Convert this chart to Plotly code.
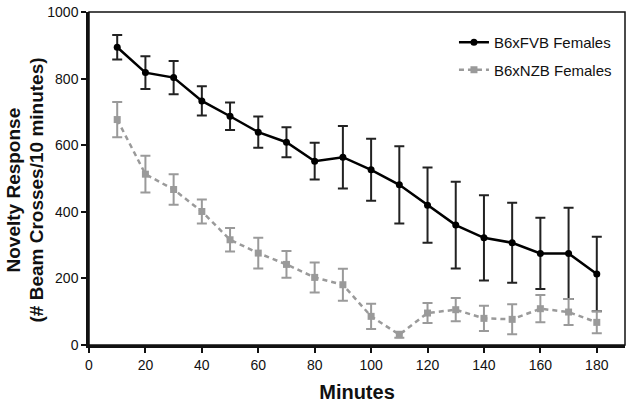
import plotly.graph_objects as go

minutes = [10, 20, 30, 40, 50, 60, 70, 80, 90, 100, 110, 120, 130, 140, 150, 160, 170, 180]

fvb_mean = [894, 818, 803, 733, 687, 639, 609, 552, 564, 526, 481, 420, 360, 322, 307, 275, 275, 213]
fvb_err = [37, 49, 50, 44, 41, 47, 45, 55, 94, 93, 116, 113, 130, 128, 120, 107, 137, 112]

nzb_mean = [677, 513, 467, 401, 316, 276, 242, 203, 181, 86, 31, 96, 106, 80, 77, 109, 99, 68]
nzb_err = [53, 55, 46, 36, 35, 46, 40, 45, 48, 38, 9, 30, 35, 38, 45, 41, 39, 33]

series_names = ["B6xFVB Females", "B6xNZB Females"]
x_ticks = [0, 20, 40, 60, 80, 100, 120, 140, 160, 180]
y_ticks = [0, 200, 400, 600, 800, 1000]
y_title_lines = ["Novelty Response", "(# Beam Crosses/10 minutes)"]
x_title = "Minutes"

BLACK = "#000000"
GRAY = "#9a9a9a"
FAMILY = "Liberation Sans, Arial, sans-serif"
TICKFONT = dict(family=FAMILY, size=14, color="#111")

fig = go.Figure()
fig.add_trace(go.Scatter(
    x=minutes, y=fvb_mean, name=series_names[0], legendgroup="a",
    mode="lines+markers",
    line=dict(color=BLACK, width=2.5),
    marker=dict(symbol="circle", size=7, color=BLACK),
    error_y=dict(type="data", array=fvb_err, color="#222", thickness=2, width=5),
))
fig.add_trace(go.Scatter(
    x=minutes, y=nzb_mean, name=series_names[1], legendgroup="b",
    mode="lines+markers",
    line=dict(color=GRAY, width=2.5, dash="5px,4px"),
    marker=dict(symbol="square", size=7, color=GRAY),
    error_y=dict(type="data", array=nzb_err, color=GRAY, thickness=2, width=5),
))

fig.update_layout(
    width=629, height=405,
    margin=dict(l=89, r=4, t=10, b=60),
    plot_bgcolor="white", paper_bgcolor="white",
    showlegend=True,
    legend=dict(
        x=0.985, y=0.958, xanchor="right", yanchor="top",
        bgcolor="rgba(0,0,0,0)",
        font=dict(family=FAMILY, size=15, color="#111"),
        tracegroupgap=5,
        itemwidth=30,
    ),
    xaxis=dict(
        range=[0, 190], tickvals=x_ticks, ticks="outside", ticklen=5, tickwidth=2,
        tickcolor="#111", showline=True, linecolor="#111", linewidth=2.5,
        showgrid=False, zeroline=False, tickfont=TICKFONT,
        title=dict(text="<b>" + x_title + "</b>", font=dict(family=FAMILY, size=20, color="#111"), standoff=14),
    ),
    yaxis=dict(
        range=[0, 1000], tickvals=y_ticks, ticks="outside", ticklen=5, tickwidth=2,
        tickcolor="#111", showline=True, linecolor="#111", linewidth=2.5,
        showgrid=False, zeroline=False, tickfont=TICKFONT,
    ),
    shapes=[dict(type="rect", xref="paper", yref="paper", x0=0, y0=0, x1=1, y1=1,
                 line=dict(color="#111", width=1.5), layer="above")],
)

for i, (txt, px) in enumerate(zip(y_title_lines, [13, 36])):
    fig.add_annotation(
        text="<b>" + txt + "</b>", xref="paper", yref="paper", x=0, y=0.5,
        xanchor="center", yanchor="middle", xshift=px - 89, yshift=-12,
        textangle=-90, showarrow=False,
        font=dict(family=FAMILY, size=19, color="#111"),
    )

fig.write_html("out.html", config={"displayModeBar": False},
               post_script="document.body.style.margin='0';document.body.style.padding='0';")
